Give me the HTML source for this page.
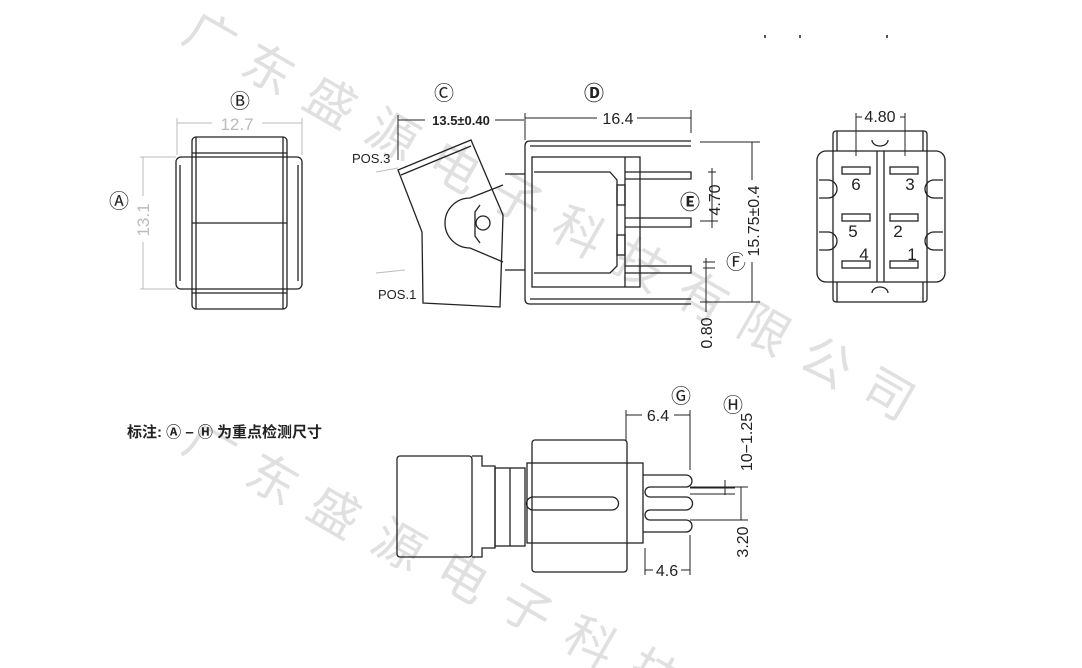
<!DOCTYPE html>
<html><head><meta charset="utf-8"><style>
html,body{margin:0;padding:0;background:#fff;width:1082px;height:668px;overflow:hidden}
svg{display:block}
text{font-family:"Liberation Sans","Noto Sans CJK SC",sans-serif}
</style></head><body>
<svg width="1082" height="668" viewBox="0 0 1082 668" xmlns="http://www.w3.org/2000/svg">
<g fill="#e0e0e0" font-size="50" font-family="'Noto Sans CJK SC',sans-serif">
<text transform="translate(180,40) rotate(30)">广</text>
<text transform="translate(238,72) rotate(30)">东</text>
<text transform="translate(300,105) rotate(30)">盛</text>
<text transform="translate(362,138) rotate(30)">源</text>
<text transform="translate(424,170) rotate(30)">电</text>
<text transform="translate(486,202) rotate(30)">子</text>
<text transform="translate(548,235) rotate(30)">科</text>
<text transform="translate(610,268) rotate(30)">技</text>
<text transform="translate(672,300) rotate(30)">有</text>
<text transform="translate(734,332) rotate(30)">限</text>
<text transform="translate(796,365) rotate(30)">公</text>
<text transform="translate(858,397) rotate(30)">司</text>
<text transform="translate(180,450) rotate(30)">广</text>
<text transform="translate(242,482) rotate(30)">东</text>
<text transform="translate(304,515) rotate(30)">盛</text>
<text transform="translate(368,548) rotate(30)">源</text>
<text transform="translate(432,580) rotate(30)">电</text>
<text transform="translate(496,612) rotate(30)">子</text>
<text transform="translate(560,645) rotate(30)">科</text>
<text transform="translate(624,678) rotate(30)">技</text>
</g>
<g fill="none" stroke="#222" stroke-width="1.3">
<rect x="192" y="137" width="95" height="172" rx="4"/>
<rect x="176" y="157" width="126" height="132" rx="5"/>
<line x1="192" y1="153" x2="287" y2="153"/><line x1="192" y1="293" x2="287" y2="293"/>
<line x1="192" y1="223" x2="287" y2="223"/>
<line x1="196" y1="137" x2="196" y2="309"/><line x1="283" y1="137" x2="283" y2="309"/>
<line x1="180" y1="165" x2="180" y2="281"/><line x1="298" y1="165" x2="298" y2="281"/>
<path d="M398,170 L471,140 L503,215 L500,307 L423,303 L422,232 Z"/>
<path d="M401,175 L471,146"/>
<path d="M503,185 L470,198 A24,24 0 0 0 470,248 L503,262"/>
<path d="M480,205 L475,212 L475,236 L480,243"/>
<circle cx="483" cy="223" r="7"/>
<path d="M691,141 L530,141 Q525,141 525,146 L525,299 Q525,304 530,304 L691,304"/>
<line x1="530" y1="146" x2="691" y2="146"/><line x1="530" y1="299" x2="691" y2="299"/>
<rect x="532" y="157" width="108" height="130"/>
<line x1="625" y1="157" x2="625" y2="287"/>
<path d="M534,172 L610,172 L617,180 L617,266 L610,273 L534,273"/>
<rect x="617" y="185" width="8" height="20"/><rect x="617" y="235" width="8" height="20"/>
<path d="M625,172 L691,172 L691,179 L625,179"/>
<path d="M625,218 L691,218 L691,227 L625,227"/>
<path d="M625,266 L691,266 L691,273 L625,273"/>
<line x1="505" y1="174" x2="525" y2="174"/><line x1="505" y1="270" x2="525" y2="270"/>
<rect x="833" y="131" width="94" height="171" rx="3"/>
<rect x="817" y="151" width="128" height="131" rx="9"/>
<line x1="877" y1="151" x2="877" y2="282"/><line x1="884" y1="151" x2="884" y2="282"/>
<line x1="837" y1="131" x2="837" y2="151"/><line x1="923" y1="131" x2="923" y2="151"/>
<line x1="837" y1="282" x2="837" y2="302"/><line x1="923" y1="282" x2="923" y2="302"/>
<path d="M872,140 A8,6 0 0 0 888,140"/><path d="M872,293 A8,6 0 0 1 888,293"/>
<path d="M819,180 L828,180 A9,9 0 0 1 828,198 L819,198"/>
<path d="M819,232 L828,232 A9,9 0 0 1 828,250 L819,250"/>
<path d="M943,180 L934,180 A9,9 0 0 0 934,198 L943,198"/>
<path d="M943,232 L934,232 A9,9 0 0 0 934,250 L943,250"/>
<rect x="842" y="167" width="28" height="7"/><rect x="890" y="167" width="28" height="7"/>
<rect x="842" y="214" width="28" height="7"/><rect x="890" y="214" width="28" height="7"/>
<rect x="842" y="261" width="28" height="7"/><rect x="890" y="261" width="28" height="7"/>
<rect x="397" y="456" width="75" height="101" rx="3"/>
<path d="M472,456 L482,456 L482,466 L495,466 L495,548 L482,548 L482,557 L472,557"/>
<rect x="495" y="468" width="30" height="78"/>
<line x1="510" y1="468" x2="510" y2="546"/>
<rect x="532" y="440" width="95" height="132" rx="3"/>
<rect x="527" y="463" width="116" height="80"/>
<path d="M533,497 L612,497 A6.5,6.5 0 0 1 612,510 L533,510 A6.5,6.5 0 0 1 533,497"/>
<path d="M643,475 L686,475 A6,6 0 0 1 686,487 L650,487 A5,5 0 0 0 650,497 L686,497 A6,6 0 0 1 686,510 L650,510 A5,5 0 0 0 650,520 L686,520 A6,6 0 0 1 686,532 L643,532"/>
</g>
<g stroke="#222" stroke-width="1" fill="none">
<line x1="398" y1="120" x2="524" y2="120"/><line x1="398" y1="115" x2="398" y2="160"/>
<line x1="525" y1="113" x2="525" y2="140"/><line x1="525" y1="118" x2="691" y2="118"/><line x1="691" y1="110" x2="691" y2="133"/>
<line x1="700" y1="142" x2="760" y2="142"/><line x1="700" y1="302" x2="760" y2="302"/><line x1="752" y1="142" x2="752" y2="302"/>
<line x1="700" y1="221" x2="718" y2="221"/><line x1="712" y1="168" x2="712" y2="228"/><line x1="708" y1="172" x2="716" y2="172"/>
<line x1="703" y1="262" x2="715" y2="262"/><line x1="703" y1="268" x2="715" y2="268"/><line x1="706" y1="258" x2="706" y2="312"/>
<line x1="856" y1="113" x2="856" y2="156"/><line x1="905" y1="113" x2="905" y2="156"/><line x1="856" y1="117" x2="905" y2="117"/>
<line x1="626" y1="410" x2="626" y2="440"/><line x1="690" y1="410" x2="690" y2="470"/><line x1="626" y1="415" x2="690" y2="415"/>
<line x1="645" y1="548" x2="645" y2="575"/><line x1="690" y1="535" x2="690" y2="575"/><line x1="645" y1="570" x2="690" y2="570"/>
<line x1="690" y1="488" x2="735" y2="488"/><line x1="690" y1="494" x2="735" y2="494"/><line x1="725" y1="480" x2="725" y2="495"/>
<line x1="690" y1="487" x2="748" y2="487"/><line x1="690" y1="520" x2="748" y2="520"/><line x1="741" y1="487" x2="741" y2="520"/>
</g>
<g stroke="#bbb" stroke-width="1">
<line x1="177" y1="123" x2="302" y2="123"/><line x1="177" y1="118" x2="177" y2="155"/><line x1="302" y1="118" x2="302" y2="155"/>
<line x1="143" y1="157" x2="143" y2="289"/><line x1="140" y1="157" x2="176" y2="157"/><line x1="140" y1="289" x2="176" y2="289"/>
<line x1="376" y1="172" x2="398" y2="168"/><line x1="376" y1="273" x2="405" y2="270"/>
</g>
<rect x="212" y="113" width="50" height="18" fill="#fff"/>
<text x="237" y="130" font-size="17" fill="#bbb" text-anchor="middle">12.7</text>
<rect x="134" y="196" width="18" height="46" fill="#fff"/>
<text transform="translate(149,220) rotate(-90)" font-size="17" fill="#bbb" text-anchor="middle">13.1</text>
<g font-size="20" fill="#222">
<text x="119" y="208" text-anchor="middle">Ⓐ</text>
<text x="240" y="108" text-anchor="middle">Ⓑ</text>
<text x="444" y="100" text-anchor="middle">Ⓒ</text>
<text x="594" y="100" text-anchor="middle" font-weight="bold">Ⓓ</text>
<text x="690" y="209" text-anchor="middle" font-weight="bold">Ⓔ</text>
<text x="736" y="269" text-anchor="middle">Ⓕ</text>
<text x="681" y="403" text-anchor="middle">Ⓖ</text>
<text x="733" y="412" text-anchor="middle">Ⓗ</text>
</g>
<g font-size="15" fill="#222">
<text x="352" y="163" font-size="13">POS.3</text>
<text x="378" y="299" font-size="13">POS.1</text>
<rect x="425" y="110" width="70" height="16" fill="#fff"/>
<text x="461" y="125" font-size="13" font-weight="bold" text-anchor="middle">13.5±0.40</text>
<rect x="597" y="110" width="40" height="16" fill="#fff"/>
<text x="618" y="124" font-size="16" text-anchor="middle">16.4</text>
<rect x="743" y="180" width="18" height="82" fill="#fff"/>
<text transform="translate(759,221) rotate(-90)" font-size="16" text-anchor="middle">15.75±0.4</text>
<text transform="translate(720,200) rotate(-90)" font-size="16" text-anchor="middle">4.70</text>
<text transform="translate(712,333) rotate(-90)" font-size="16" text-anchor="middle">0.80</text>
<rect x="862" y="108" width="38" height="16" fill="#fff"/>
<text x="880" y="122" font-size="16" text-anchor="middle">4.80</text>
<g font-size="17">
<text x="856" y="190" text-anchor="middle">6</text><text x="910" y="190" text-anchor="middle">3</text>
<text x="853" y="237" text-anchor="middle">5</text><text x="898" y="237" text-anchor="middle">2</text>
<text x="864" y="260" text-anchor="middle">4</text><text x="912" y="260" text-anchor="middle">1</text>
</g>
<rect x="642" y="407" width="32" height="16" fill="#fff"/>
<text x="658" y="421" font-size="16" text-anchor="middle">6.4</text>
<rect x="653" y="562" width="28" height="16" fill="#fff"/>
<text x="667" y="576" font-size="16" text-anchor="middle">4.6</text>
<text transform="translate(752,442) rotate(-90)" font-size="16" text-anchor="middle">10−1.25</text>
<text transform="translate(748,542) rotate(-90)" font-size="16" text-anchor="middle">3.20</text>
<text x="127" y="437" font-size="15" font-weight="bold" font-family="'Noto Sans CJK SC',sans-serif">标注: Ⓐ – Ⓗ 为重点检测尺寸</text>
</g>
<g fill="#555"><rect x="764" y="35" width="2" height="3"/><rect x="799" y="35" width="2" height="3"/><rect x="886" y="35" width="2" height="3"/></g>
</svg>
</body></html>
